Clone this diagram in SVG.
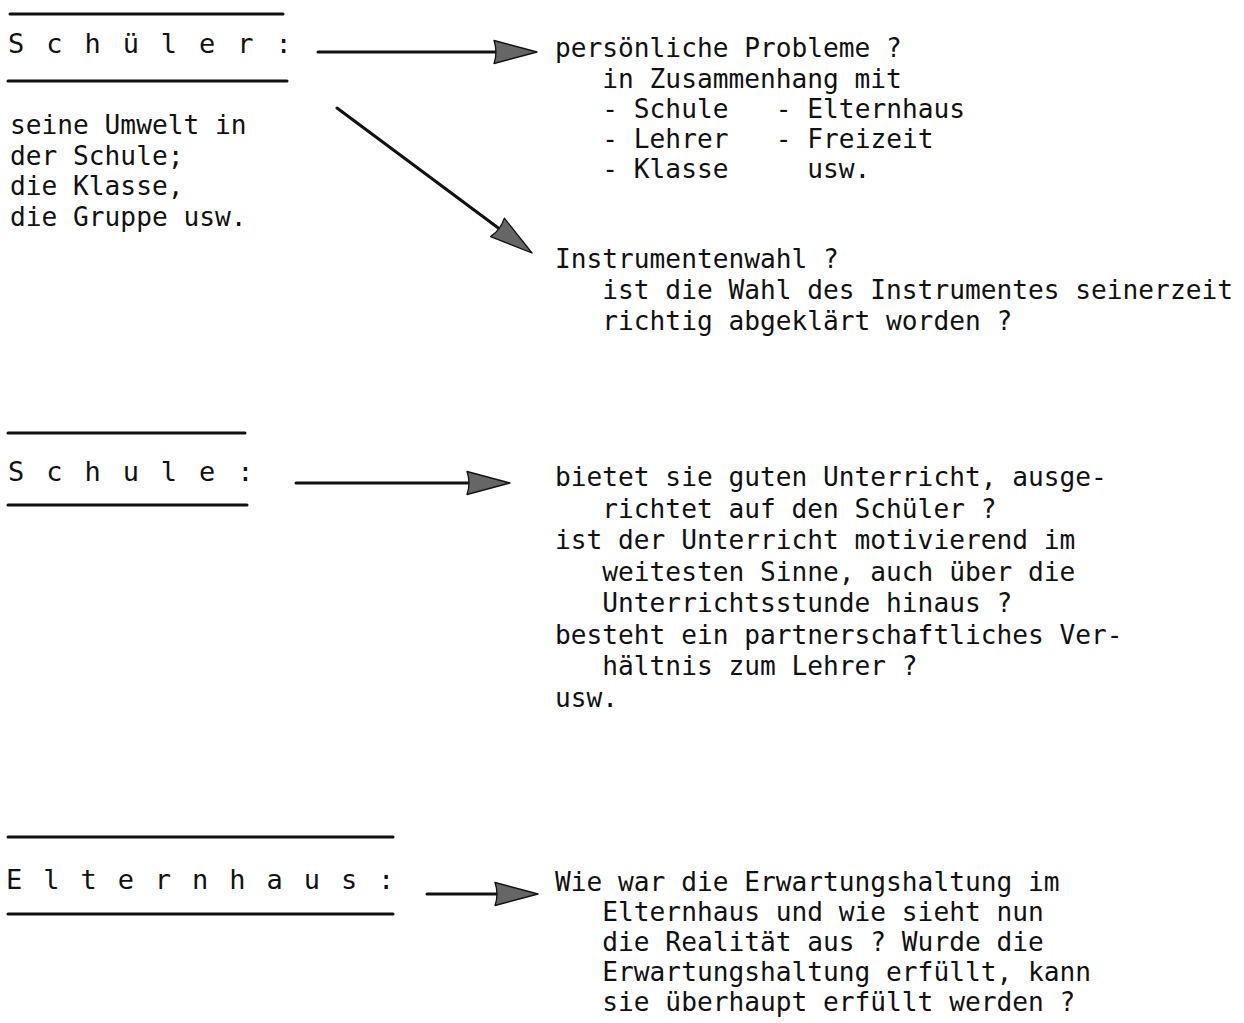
<svg xmlns="http://www.w3.org/2000/svg" width="1244" height="1023" viewBox="0 0 1244 1023">
<style>
  text { font-family: "DejaVu Sans Mono", "Liberation Mono", monospace; fill: #111; }
  .body { font-size: 26.2px; }
  .head { font-size: 27px; letter-spacing: 2.85px; }
  .rule { stroke: #111; stroke-width: 3; stroke-linecap: round; fill: none; }
  .conn { stroke: #111; stroke-width: 3; stroke-linecap: round; fill: none; marker-end: url(#head); }
</style>
<defs>
  <marker id="head" viewBox="0 -13 46 26" markerWidth="46" markerHeight="26" refX="10" refY="0" markerUnits="userSpaceOnUse" orient="auto">
    <path d="M1,-11.5 Q5,0 1,11.5 L44,0 Z" fill="#666" stroke="#111" stroke-width="1.3" stroke-linejoin="round"/>
  </marker>
</defs>
<rect width="1244" height="1023" fill="#ffffff"/>

<g id="node-schueler">
  <line class="rule" x1="10" y1="14" x2="283" y2="14"/>
  <text class="head" x="8" y="53">S c h ü l e r :</text>
  <line class="rule" x1="8" y1="81" x2="287" y2="81"/>
  <text class="body" x="10" y="134">seine Umwelt in</text>
  <text class="body" x="10" y="165">der Schule;</text>
  <text class="body" x="10" y="195">die Klasse,</text>
  <text class="body" x="10" y="226">die Gruppe usw.</text>
</g>

<g id="node-probleme">
  <text class="body" x="555" y="57">persönliche Probleme ?</text>
  <text class="body" x="602.3" y="88">in Zusammenhang mit</text>
  <text class="body" x="602.3" y="118">- Schule</text>
  <text class="body" x="775.8" y="118">- Elternhaus</text>
  <text class="body" x="602.3" y="148">- Lehrer</text>
  <text class="body" x="775.8" y="148">- Freizeit</text>
  <text class="body" x="602.3" y="178">- Klasse</text>
  <text class="body" x="807.3" y="178">usw.</text>
</g>

<g id="node-instrumentenwahl">
  <text class="body" x="555" y="268">Instrumentenwahl ?</text>
  <text class="body" x="602.3" y="299">ist die Wahl des Instrumentes seinerzeit</text>
  <text class="body" x="602.3" y="330">richtig abgeklärt worden ?</text>
</g>

<g id="node-schule">
  <line class="rule" x1="8" y1="433" x2="245" y2="433"/>
  <text class="head" x="8" y="481">S c h u l e :</text>
  <line class="rule" x1="8" y1="505" x2="247" y2="505"/>
</g>

<g id="node-unterricht">
  <text class="body" x="555" y="486">bietet sie guten Unterricht, ausge-</text>
  <text class="body" x="602.3" y="517.5">richtet auf den Schüler ?</text>
  <text class="body" x="555" y="549">ist der Unterricht motivierend im</text>
  <text class="body" x="602.3" y="580.5">weitesten Sinne, auch über die</text>
  <text class="body" x="602.3" y="612">Unterrichtsstunde hinaus ?</text>
  <text class="body" x="555" y="643.5">besteht ein partnerschaftliches Ver-</text>
  <text class="body" x="602.3" y="675">hältnis zum Lehrer ?</text>
  <text class="body" x="555" y="706.5">usw.</text>
</g>

<g id="node-elternhaus">
  <line class="rule" x1="8" y1="837" x2="393" y2="837"/>
  <text class="head" x="6" y="889" style="letter-spacing:2.35px">E l t e r n h a u s :</text>
  <line class="rule" x1="8" y1="914" x2="393" y2="914"/>
</g>

<g id="node-erwartung">
  <text class="body" x="555" y="891">Wie war die Erwartungshaltung im</text>
  <text class="body" x="602.3" y="921">Elternhaus und wie sieht nun</text>
  <text class="body" x="602.3" y="951">die Realität aus ? Wurde die</text>
  <text class="body" x="602.3" y="981">Erwartungshaltung erfüllt, kann</text>
  <text class="body" x="602.3" y="1011">sie überhaupt erfüllt werden ?</text>
</g>

<g id="connectors">
  <line class="conn" x1="318" y1="52" x2="503" y2="52"/>
  <line class="conn" x1="337" y1="108" x2="504.7" y2="232.7"/>
  <line class="conn" x1="296" y1="483" x2="476" y2="483"/>
  <line class="conn" x1="427" y1="894" x2="504" y2="894"/>
</g>
</svg>
